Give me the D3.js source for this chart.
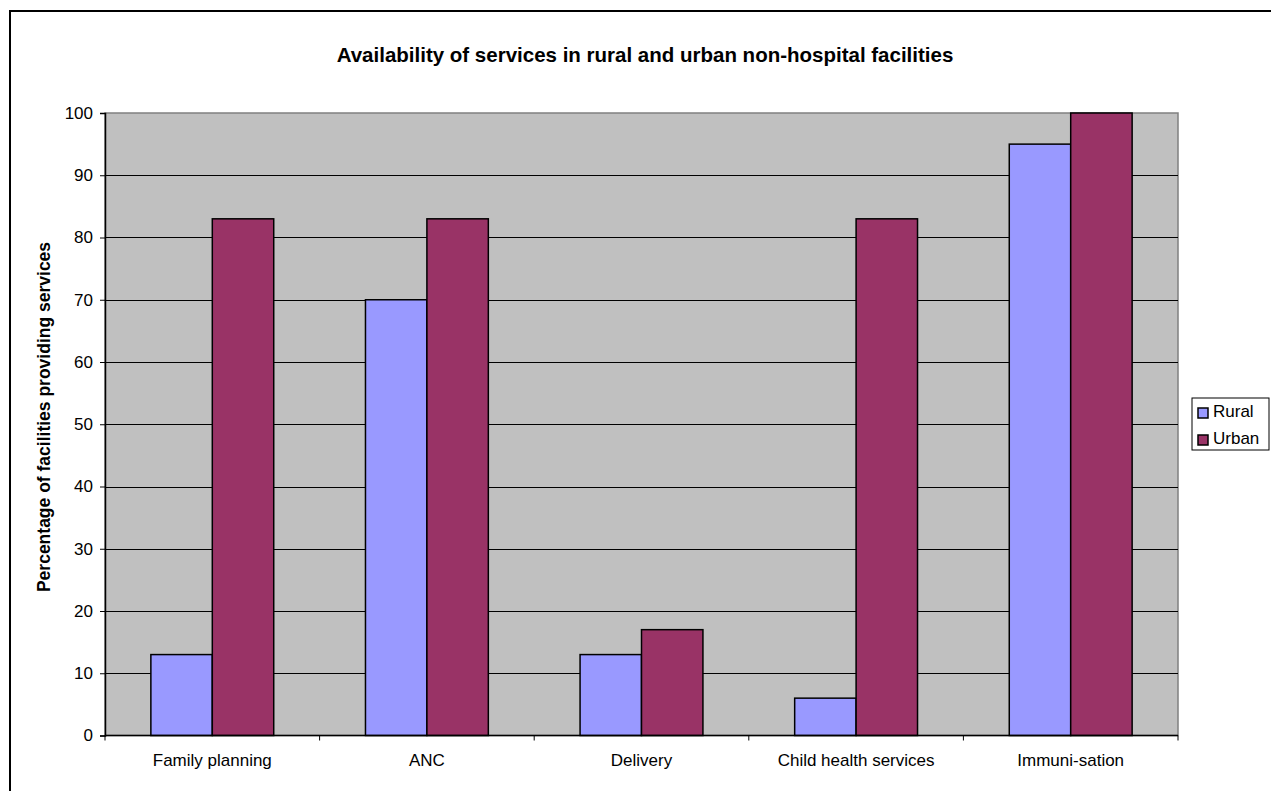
<!DOCTYPE html>
<html>
<head>
<meta charset="utf-8">
<script src="https://cdn.jsdelivr.net/npm/d3@7"></script>
<style>
  body { margin: 0; background: #fff; }
  svg { display: block; font-family: "Liberation Sans", Arial, sans-serif; }
</style>
</head>
<body>
<svg id="chart" width="1271" height="791"></svg>
<script>
// Service categories and the share of facilities offering each one
const categories = ["Family planning", "ANC", "Delivery", "Child health services", "Immuni-sation"];
const seriesNames = ["Rural", "Urban"];
const rural = [13, 70, 13, 6, 95];
const urban = [83, 83, 17, 83, 100];
const yTicks = [0, 10, 20, 30, 40, 50, 60, 70, 80, 90, 100];
const colors = { Rural: "#9999ff", Urban: "#993366" };

const svg = d3.select("#chart");
const W = 1271, H = 791;

// Outer chart frame
svg.append("rect")
  .attr("x", 10).attr("y", 11)
  .attr("width", W + 20).attr("height", H + 20)
  .attr("fill", "#fff").attr("stroke", "#000").attr("stroke-width", 2);

const plot = { left: 105, top: 113, right: 1178, bottom: 735.5 };

const x = d3.scaleBand().domain(categories).range([plot.left, plot.right]).paddingInner(0).paddingOuter(0);
const sub = d3.scaleBand().domain(seriesNames).range([0, x.bandwidth()]).paddingInner(0).paddingOuter(0.7467);
const y = d3.scaleLinear().domain([0, 100]).range([plot.bottom, plot.top]);

// Plot area background
svg.append("rect")
  .attr("x", plot.left).attr("y", plot.top)
  .attr("width", plot.right - plot.left).attr("height", plot.bottom - plot.top)
  .attr("fill", "#c0c0c0").attr("stroke", "#808080").attr("stroke-width", 1.5);

// Horizontal gridlines
svg.append("g").selectAll("line")
  .data(yTicks.filter(d => d > 0 && d < 100))
  .join("line")
  .attr("x1", plot.left).attr("x2", plot.right)
  .attr("y1", d => Math.round(y(d)) + 0.5).attr("y2", d => Math.round(y(d)) + 0.5)
  .attr("stroke", "#000").attr("stroke-width", 1);

// Bars
const groups = svg.append("g").selectAll("g")
  .data(categories.map((c, i) => ({ c, vals: [{ s: "Rural", v: rural[i] }, { s: "Urban", v: urban[i] }] })))
  .join("g")
  .attr("transform", d => `translate(${x(d.c)},0)`);

groups.selectAll("rect")
  .data(d => d.vals)
  .join("rect")
  .attr("x", d => sub(d.s))
  .attr("width", sub.bandwidth())
  .attr("y", d => y(d.v))
  .attr("height", d => y(0) - y(d.v))
  .attr("fill", d => colors[d.s])
  .attr("stroke", "#000").attr("stroke-width", 1.5);

// Y axis
const yAxis = d3.axisLeft(y).tickValues(yTicks).tickSize(5).tickPadding(7);
const gy = svg.append("g").attr("transform", `translate(${plot.left},0)`).call(yAxis);
gy.select(".domain").attr("stroke", "#000").attr("stroke-width", 1.5);
gy.selectAll(".tick line").attr("stroke", "#000");
gy.selectAll(".tick text").attr("font-size", 17).attr("fill", "#000")
  .attr("font-family", "'Liberation Sans', Arial, sans-serif");

// X axis with ticks between categories
const gx = svg.append("g").attr("transform", `translate(0,${plot.bottom})`);
gx.append("line").attr("x1", plot.left).attr("x2", plot.right).attr("y1", 0).attr("y2", 0)
  .attr("stroke", "#000").attr("stroke-width", 1.5);
gx.selectAll("line.tick")
  .data(categories.map(c => x(c)).concat([plot.right]))
  .join("line").attr("class", "tick")
  .attr("x1", d => d).attr("x2", d => d).attr("y1", 0).attr("y2", 5)
  .attr("stroke", "#000");
gx.selectAll("text")
  .data(categories)
  .join("text")
  .attr("x", d => x(d) + x.bandwidth() / 2)
  .attr("y", 30.5)
  .attr("text-anchor", "middle")
  .attr("font-size", 17)
  .text(d => d);

// Title
svg.append("text")
  .attr("x", 645).attr("y", 62)
  .attr("text-anchor", "middle")
  .attr("font-size", 20.5).attr("font-weight", "bold")
  .text("Availability of services in rural and urban non-hospital facilities");

// Y axis title
svg.append("text")
  .attr("transform", `translate(50,417) rotate(-90)`)
  .attr("text-anchor", "middle")
  .attr("font-size", 17.5).attr("font-weight", "bold")
  .text("Percentage of facilities providing services");

// Legend
const leg = svg.append("g").attr("transform", "translate(1192,398)");
leg.append("rect").attr("width", 77).attr("height", 52)
  .attr("fill", "#fff").attr("stroke", "#000").attr("stroke-width", 1);
seriesNames.forEach((s, i) => {
  leg.append("rect")
    .attr("x", 6).attr("y", 10 + i * 27)
    .attr("width", 10).attr("height", 10)
    .attr("fill", colors[s]).attr("stroke", "#000").attr("stroke-width", 1.5);
  leg.append("text")
    .attr("x", 21).attr("y", 19 + i * 27)
    .attr("font-size", 17)
    .text(s);
});
</script>
</body>
</html>
